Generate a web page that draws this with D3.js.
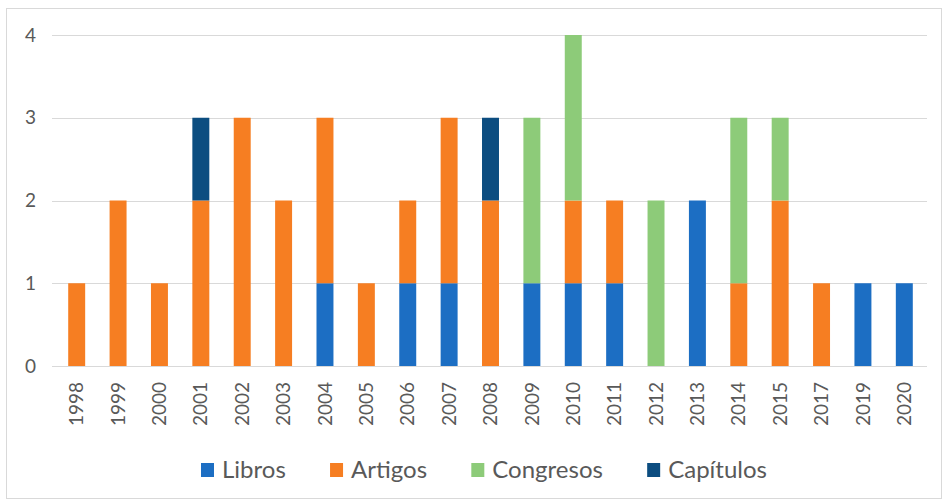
<!DOCTYPE html>
<html>
<head>
<meta charset="utf-8">
<script src="https://cdn.jsdelivr.net/npm/d3@7"></script>
<style>
  body { margin: 0; background: #fff; }
  text { font-family: Lato, "Open Sans", sans-serif; fill: #595959; }
</style>
</head>
<body>
<div id="chart"></div>
<script>
// Data
const years = ["1998","1999","2000","2001","2002","2003","2004","2005","2006","2007","2008",
               "2009","2010","2011","2012","2013","2014","2015","2017","2019","2020"];
const libros    = [0,0,0,0,0,0,1,0,1,1,0,1,1,1,0,2,0,0,0,1,1];
const artigos   = [1,2,1,2,3,2,2,1,1,2,2,0,1,1,0,0,1,2,1,0,0];
const congresos = [0,0,0,0,0,0,0,0,0,0,0,2,2,0,2,0,2,1,0,0,0];
const capitulos = [0,0,0,1,0,0,0,0,0,0,1,0,0,0,0,0,0,0,0,0,0];
const seriesNames = ["Libros", "Artigos", "Congresos", "Capítulos"];
const yTicks = [0, 1, 2, 3, 4];

const colors = ["#1c6ec3", "#f67e22", "#8dcb79", "#0c4d80"];

const W = 947, H = 504;

const svg = d3.select("#chart")
    .append("svg")
    .attr("width", W)
    .attr("height", H);

// Chart frame
svg.append("rect")
    .attr("x", 6.5).attr("y", 8.5)
    .attr("width", 935).attr("height", 490)
    .attr("fill", "#fff")
    .attr("stroke", "#d9d9d9");

// Build table for the stack
const table = years.map((y, i) => ({
    year: y,
    Libros: libros[i],
    Artigos: artigos[i],
    Congresos: congresos[i],
    "Capítulos": capitulos[i]
}));
const stacked = d3.stack().keys(seriesNames)(table);

// Scales
const x = d3.scaleBand()
    .domain(years)
    .range([56, 925])
    .paddingInner(0.59)
    .paddingOuter(0.295);

const y = d3.scaleLinear()
    .domain([0, 4])
    .range([366, 35]);

// Gridlines
svg.append("g")
    .selectAll("line")
    .data(yTicks)
    .join("line")
    .attr("x1", 52)
    .attr("x2", 927)
    .attr("y1", d => Math.round(y(d)) + 0.5)
    .attr("y2", d => Math.round(y(d)) + 0.5)
    .attr("stroke", "#d9d9d9")
    .attr("stroke-width", 1);

// Y axis labels
const yAxis = svg.append("g")
    .attr("transform", "translate(36,0)")
    .call(d3.axisLeft(y).tickValues(yTicks).tickSize(0).tickPadding(0).tickFormat(d3.format("d")));
yAxis.select(".domain").remove();
yAxis.selectAll("text")
    .style("font-family", "Lato, sans-serif")
    .style("font-size", "19px")
    .attr("fill", "#595959");

// Bars
svg.append("g")
    .selectAll("g")
    .data(stacked)
    .join("g")
    .attr("fill", (d, i) => colors[i])
    .selectAll("rect")
    .data(d => d)
    .join("rect")
    .attr("x", d => x(d.data.year))
    .attr("y", d => y(d[1]))
    .attr("width", x.bandwidth())
    .attr("height", d => y(d[0]) - y(d[1]));

// X axis labels (rotated)
const xAxis = svg.append("g")
    .attr("transform", "translate(0,378)")
    .call(d3.axisBottom(x).tickSize(0).tickPadding(0));
xAxis.select(".domain").remove();
xAxis.selectAll("text")
    .style("font-family", "Lato, sans-serif")
    .style("font-size", "19px")
    .attr("fill", "#595959")
    .attr("transform", "rotate(-90)")
    .attr("text-anchor", "end")
    .attr("x", -4)
    .attr("y", 0)
    .attr("dy", "0.35em");

// Legend
const legend = svg.append("g").attr("transform", "translate(0,470)");
const items = legend.selectAll("g")
    .data(seriesNames)
    .join("g");
items.append("rect")
    .attr("x", 0).attr("y", -7)
    .attr("width", 13).attr("height", 14)
    .attr("fill", (d, i) => colors[i]);
items.append("text")
    .attr("x", 21)
    .attr("dy", "0.35em")
    .style("font-size", "24px")
    .text(d => d);

// Lay out legend items across the same span as the original
const widths = [];
items.each(function () {
    widths.push(21 + this.querySelector("text").getComputedTextLength());
});
const legendLeft = 201, legendRight = 767;
const gap = (legendRight - legendLeft - d3.sum(widths)) / (widths.length - 1);
let offset = legendLeft;
items.attr("transform", (d, i) => {
    const t = `translate(${offset},0)`;
    offset += widths[i] + gap;
    return t;
});
</script>
</body>
</html>
